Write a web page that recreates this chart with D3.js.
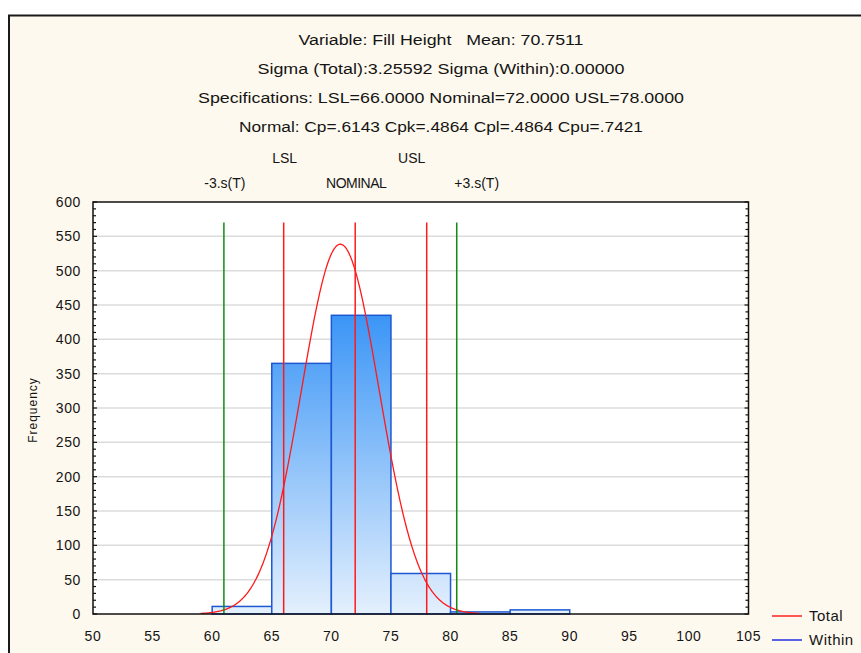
<!DOCTYPE html>
<html>
<head>
<meta charset="utf-8">
<script src="https://cdn.jsdelivr.net/npm/d3@7"></script>
<style>
  body { margin:0; background:#fff; }
  svg text { font-family: "Liberation Sans", Arial, sans-serif; fill:#151515; white-space: pre; }
</style>
</head>
<body>
<script>
// histogram data (bin edges + counts)
var binStarts = [60, 65, 70, 75, 80, 85];
var binWidth = 5;
var counts = [11, 365, 435, 59, 3, 6];

var mean = 70.7511;
var sigma = 3.25592;
var specNames = ["LSL", "NOMINAL", "USL"];
var specValues = [66, 72, 78];
var sigmaNames = ["-3.s(T)", "+3.s(T)"];

var xTicks = [50, 55, 60, 65, 70, 75, 80, 85, 90, 95, 100, 105];
var yTicks = [0, 50, 100, 150, 200, 250, 300, 350, 400, 450, 500, 550, 600];

var titleLines = [
  "Variable: Fill Height   Mean: 70.7511",
  "Sigma (Total):3.25592 Sigma (Within):0.00000",
  "Specifications: LSL=66.0000 Nominal=72.0000 USL=78.0000",
  "Normal: Cp=.6143 Cpk=.4864 Cpl=.4864 Cpu=.7421"
];
var titleWidths = [285, 367, 486, 404];

var legendNames = ["Total", "Within"];
var legendColors = ["#ff2020", "#2030e0"];

var W = 861, H = 653;
var plot = { left: 93, right: 748.5, top: 202, bottom: 614 };

var svg = d3.select("body").append("svg").attr("width", W).attr("height", H);

// outer cream panel with its dark frame (runs off the window on right/bottom)
svg.append("rect").attr("x", 9).attr("y", 15.5).attr("width", 900).attr("height", 700)
  .style("fill", "#fef9ee").style("stroke", "#1a1a1a").style("stroke-width", 2);

var x = d3.scaleLinear().domain([50, 105]).range([plot.left, plot.right]);
var y = d3.scaleLinear().domain([0, 600]).range([plot.bottom, plot.top]);

var defs = svg.append("defs");
var grad = defs.append("linearGradient").attr("id", "barGrad")
  .attr("gradientUnits", "userSpaceOnUse")
  .attr("x1", 0).attr("x2", 0).attr("y1", y(435)).attr("y2", y(0));
grad.append("stop").attr("offset", "0%").attr("stop-color", "#3b95f6");
grad.append("stop").attr("offset", "100%").attr("stop-color", "#e4f0fd");

// plot background
svg.append("rect").attr("x", plot.left).attr("y", plot.top)
  .attr("width", plot.right - plot.left).attr("height", plot.bottom - plot.top)
  .style("fill", "#ffffff");

// horizontal grid
svg.append("g").selectAll("line").data(yTicks.slice(1, -1)).enter().append("line")
  .attr("x1", plot.left).attr("x2", plot.right)
  .attr("y1", function(d){ return y(d); }).attr("y2", function(d){ return y(d); })
  .style("stroke", "#dcdcdc").style("stroke-width", 1.5);

// bars
svg.append("g").selectAll("rect").data(counts).enter().append("rect")
  .attr("x", function(d, i){ return x(binStarts[i]); })
  .attr("y", function(d){ return y(d); })
  .attr("width", function(d, i){ return x(binStarts[i] + binWidth) - x(binStarts[i]); })
  .attr("height", function(d){ return y(0) - y(d); })
  .style("fill", "url(#barGrad)")
  .style("stroke", "#1d58d2").style("stroke-width", 1.5);

// fitted normal curve (from mean, sigma and total count)
var nTotal = d3.sum(counts);
var curvePts = d3.range(mean - 3.6 * sigma, mean + 3.6 * sigma, 0.05).map(function(v){
  var z = (v - mean) / sigma;
  return [v, nTotal * binWidth * Math.exp(-0.5 * z * z) / (sigma * Math.sqrt(2 * Math.PI))];
});
svg.append("path").datum(curvePts)
  .attr("d", d3.line().x(function(d){ return x(d[0]); }).y(function(d){ return y(d[1]); }))
  .style("fill", "none").style("stroke", "#ff1a1a").style("stroke-width", 1.3);

// spec lines (red) and +-3 sigma lines (green)
var lineTop = y(570);
svg.append("g").selectAll("line").data(specValues).enter().append("line")
  .attr("x1", function(d){ return x(d); }).attr("x2", function(d){ return x(d); })
  .attr("y1", lineTop).attr("y2", plot.bottom)
  .style("stroke", "#ff1a1a").style("stroke-width", 1.5);

var sigmaValues = [mean - 3 * sigma, mean + 3 * sigma];
svg.append("g").selectAll("line").data(sigmaValues).enter().append("line")
  .attr("x1", function(d){ return x(d); }).attr("x2", function(d){ return x(d); })
  .attr("y1", lineTop).attr("y2", plot.bottom)
  .style("stroke", "#128a12").style("stroke-width", 1.5);

// frame + axis lines
svg.append("rect").attr("x", plot.left).attr("y", plot.top)
  .attr("width", plot.right - plot.left).attr("height", plot.bottom - plot.top)
  .style("fill", "none").style("stroke", "#111").style("stroke-width", 1.5);

// inward ticks on left and right, major every 50 minor every 10
var minor = d3.range(0, 601, 10);
[plot.left, plot.right].forEach(function(px, side){
  var dir = side == 0 ? 1 : -1;
  svg.append("g").selectAll("line").data(minor).enter().append("line")
    .attr("x1", px).attr("x2", function(d){ return px + dir * (d % 50 == 0 ? 4 : 3); })
    .attr("y1", function(d){ return y(d); }).attr("y2", function(d){ return y(d); })
    .style("stroke", "#111").style("stroke-width", 1.2);
});

// tick labels
svg.append("g").selectAll("text").data(yTicks).enter().append("text")
  .attr("x", 81).attr("y", function(d){ return y(d) + 5; })
  .attr("text-anchor", "end").style("font-size", "14px").style("letter-spacing", "0.6px")
  .text(function(d){ return d; });

svg.append("g").selectAll("text").data(xTicks).enter().append("text")
  .attr("x", function(d){ return x(d); }).attr("y", 641)
  .attr("text-anchor", "middle").style("font-size", "14px").style("letter-spacing", "0.6px")
  .text(function(d){ return d; });

svg.append("text").attr("transform", "translate(37,410) rotate(-90)")
  .attr("text-anchor", "middle").style("font-size", "12px").style("letter-spacing", "1px")
  .text("Frequency");

// header lines
svg.append("g").selectAll("text").data(titleLines).enter().append("text")
  .attr("x", 441).attr("y", function(d, i){ return 45 + i * 29; })
  .attr("text-anchor", "middle").style("font-size", "14px")
  .attr("textLength", function(d, i){ return titleWidths[i]; })
  .attr("lengthAdjust", "spacingAndGlyphs")
  .text(function(d){ return d; });

// labels over the reference lines
svg.append("text").attr("x", x(specValues[0]) + 1).attr("y", 163)
  .attr("text-anchor", "middle").style("font-size", "14px").text(specNames[0]);
svg.append("text").attr("x", x(specValues[2]) - 15).attr("y", 163)
  .attr("text-anchor", "middle").style("font-size", "14px").text(specNames[2]);
svg.append("text").attr("x", x(specValues[1]) + 1).attr("y", 188)
  .attr("text-anchor", "middle").style("font-size", "14px").style("letter-spacing", "-0.5px").text(specNames[1]);
svg.append("text").attr("x", x(sigmaValues[0]) + 1).attr("y", 188)
  .attr("text-anchor", "middle").style("font-size", "14px").text(sigmaNames[0]);
svg.append("text").attr("x", x(sigmaValues[1]) + 20).attr("y", 188)
  .attr("text-anchor", "middle").style("font-size", "14px").text(sigmaNames[1]);

// legend
var leg = svg.append("g").selectAll("g").data(legendNames).enter().append("g")
  .attr("transform", function(d, i){ return "translate(772," + (616 + i * 24) + ")"; });
leg.append("line").attr("x1", 0).attr("x2", 30).attr("y1", 0).attr("y2", 0)
  .style("stroke", function(d, i){ return legendColors[i]; }).style("stroke-width", 1.5);
leg.append("text").attr("x", 37).attr("y", 5).style("font-size", "15px").style("letter-spacing", "0.5px")
  .text(function(d){ return d; });
</script>
</body>
</html>
